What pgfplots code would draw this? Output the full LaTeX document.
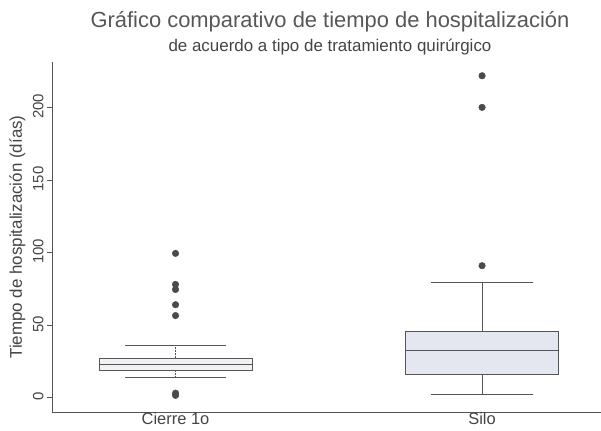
\documentclass[border=0pt]{standalone}
\usepackage{fontspec}
\setmainfont{Liberation Sans}
\usepackage{pgfplots}
\pgfplotsset{compat=1.18}

\definecolor{axisgray}{HTML}{555555}
\definecolor{txtgray}{HTML}{444444}
\definecolor{titlegray}{HTML}{575757}
\definecolor{boxfillA}{HTML}{F2F2F4}
\definecolor{boxfillB}{HTML}{E4E7F0}
\definecolor{dotgray}{HTML}{4A4A4A}

\begin{document}
\begin{tikzpicture}
\begin{axis}[
    at={(0bp,0bp)}, anchor=south west,
    scale only axis,
    width=549bp, height=350bp,
    xmin=0.597, xmax=2.388,
    ymin=-10, ymax=231.4,
    axis lines=left,
    axis line style={axisgray, line width=0.7pt, -},
    xtick={1,2},
    xticklabels={Cierre 1o, Silo},
    xtick style={draw=none},
    xticklabel style={font=\fontsize{16.5}{18}\selectfont, text=txtgray, inner sep=0bp, yshift=5bp, text depth=0pt},
    ytick={0,50,100,150,200},
    ytick style={axisgray, line width=0.6pt},
    tick align=outside,
    major tick length=5bp,
    yticklabel style={rotate=90, anchor=south, font=\fontsize{15}{17}\selectfont, text=txtgray, xshift=1bp},
    ylabel={Tiempo de hospitalización (días)},
    every axis y label/.style={at={(axis description cs:-0.063,0.5)}, rotate=90, anchor=center},
    ylabel style={font=\fontsize{17}{19}\selectfont, text=txtgray},
    /pgf/number format/assume math mode=true,
    clip=false,
]
% ---- Cierre 1o: whiskers 14.3 / 36.2, box 19.0 - 27.4, median 23.1
\addplot[densely dotted, axisgray, line width=0.5pt] coordinates {(1,27.4) (1,36.2)};
\addplot[densely dotted, axisgray, line width=0.5pt] coordinates {(1,19.0) (1,14.3)};
\addplot[axisgray, line width=0.5pt] coordinates {(0.835,36.2) (1.165,36.2)};
\addplot[axisgray, line width=0.5pt] coordinates {(0.835,14.3) (1.165,14.3)};
\addplot[fill=boxfillA, draw=axisgray, line width=0.5pt] coordinates {(0.75,19.0) (1.25,19.0) (1.25,27.4) (0.75,27.4)} -- cycle;
\addplot[axisgray, line width=0.8pt] coordinates {(0.75,23.1) (1.25,23.1)};
\addplot[only marks, mark=*, mark size=3.3bp, mark options={fill=dotgray, draw=dotgray}] coordinates {
    (1,99.4) (1,78) (1,74.5) (1,64) (1,56.5) (1,3) (1,1.5)
};
% ---- Silo: whiskers 2.2 / 79.2, box 16.2 - 45.9, median 32.8
\addplot[axisgray, line width=0.5pt] coordinates {(2,45.9) (2,79.2)};
\addplot[axisgray, line width=0.5pt] coordinates {(2,16.2) (2,2.2)};
\addplot[axisgray, line width=0.5pt] coordinates {(1.835,79.2) (2.165,79.2)};
\addplot[axisgray, line width=0.5pt] coordinates {(1.835,2.2) (2.165,2.2)};
\addplot[fill=boxfillB, draw=axisgray, line width=0.5pt] coordinates {(1.75,16.2) (2.25,16.2) (2.25,45.9) (1.75,45.9)} -- cycle;
\addplot[axisgray, line width=0.8pt] coordinates {(1.75,32.8) (2.25,32.8)};
\addplot[only marks, mark=*, mark size=3.3bp, mark options={fill=dotgray, draw=dotgray}] coordinates {
    (2,90.9) (2,200.1) (2,221.9)
};
\end{axis}
\node[text=titlegray, font=\fontsize{22}{25}\selectfont] at (278bp,390bp) {Gráfico comparativo de tiempo de hospitalización};
\node[text=txtgray, font=\fontsize{17}{19}\selectfont] at (278bp,365bp) {de acuerdo a tipo de tratamiento quirúrgico};
\pgfresetboundingbox
\path[use as bounding box] (-52bp,-19bp) rectangle (549bp,412bp);
\end{tikzpicture}
\end{document}
